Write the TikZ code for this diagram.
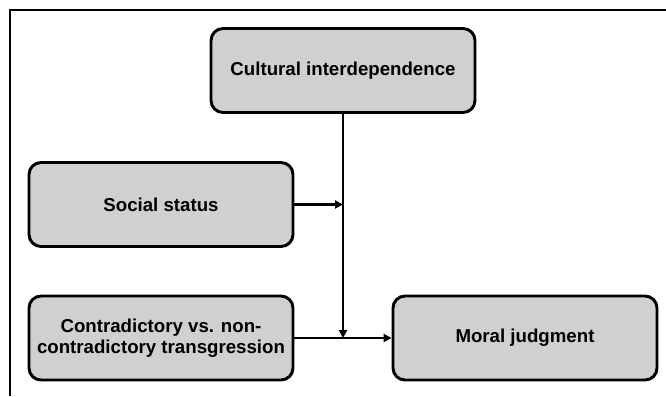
\documentclass[tikz,border=0pt]{standalone}
\usepackage{fontspec}
\setmainfont{Liberation Sans}
\usetikzlibrary{arrows.meta}
\definecolor{boxgray}{RGB}{208,208,208}
\tikzset{
  varbox/.style={draw,fill=boxgray,line width=2.2pt,rounded corners=9pt,
    minimum width=198pt,minimum height=63pt,align=center,
    font=\bfseries\fontsize{14}{15.75}\selectfont},
  link/.style={line width=1.9pt,-{Triangle[length=6pt,width=6pt]}}
}
\begin{document}
\begin{tikzpicture}[x=0.75pt,y=-0.75pt]
\useasboundingbox (0,0) rectangle (666,396);
\draw [line width=2pt] (10,396) |- (666,10);

\node [varbox] (cult) at (343,70.5) {Cultural interdependence};
\node [varbox] (social) at (161,204.5) {Social status};
\node [varbox] (contra) at (161,338) {Contradictory vs. non-\\contradictory transgression};
\node [varbox] (moral) at (525,338) {Moral judgment};

\coordinate (j) at (cult.south |- moral.west);
\coordinate (k) at (social.east -| cult.south);

\draw [link] (cult.south) -- (j);
\draw [link] (social.east) -- (k);
\draw [link] (contra.east) -- (moral.west);
\end{tikzpicture}
\end{document}
